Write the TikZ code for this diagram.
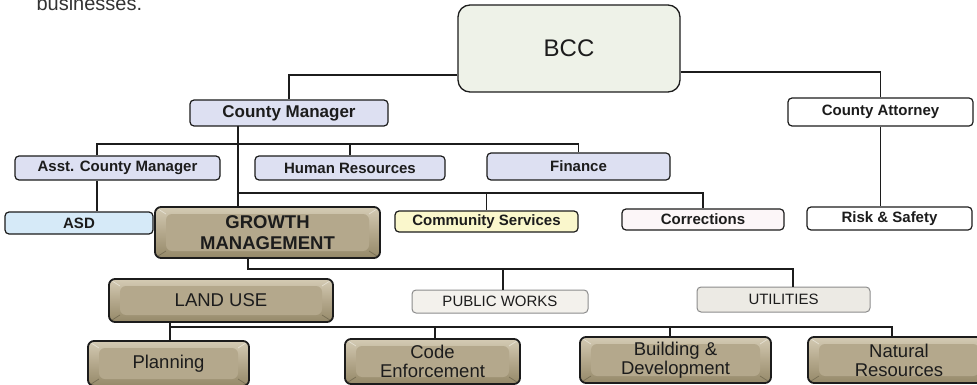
\documentclass[tikz,border=0pt]{standalone}
\usepackage{fontspec}
\setmainfont{Liberation Sans}
\definecolor{lav}{HTML}{DDE0F2}
\definecolor{bccfill}{HTML}{EEF2E8}
\definecolor{asdfill}{HTML}{D6EAF8}
\definecolor{csfill}{HTML}{FAF7CC}
\definecolor{corfill}{HTML}{FCF6F8}
\definecolor{pwfill}{HTML}{F3F1EC}
\definecolor{utfill}{HTML}{ECEAE4}
\definecolor{tanL}{HTML}{D4CBB4}
\definecolor{tanM}{HTML}{B4A88C}
\definecolor{tanD}{HTML}{958969}
\definecolor{ink}{HTML}{1C1C1C}
\tikzset{
  conn/.style={draw=ink, line width=1.3pt},
  plain/.style={draw=ink, line width=1.2pt, rounded corners=4pt, inner sep=0pt, text=ink,
     font=\bfseries\fontsize{15}{17}\selectfont},
  lavbox/.style={plain, fill=lav},
  greybox/.style={draw=black!45, line width=1pt, rounded corners=4pt, inner sep=0pt, text=ink,
     font=\fontsize{15}{17}\selectfont},
  bevel/.style={draw=ink, line width=1.8pt, rounded corners=6pt, inner sep=0pt, text=ink,
     top color=tanL, bottom color=tanD, middle color=tanM, align=center,
     font=\fontsize{18.5}{19}\selectfont,
     path picture={
       \coordinate (nw) at (path picture bounding box.north west);
       \coordinate (se) at (path picture bounding box.south east);
       \coordinate (ne) at (path picture bounding box.north east);
       \coordinate (sw) at (path picture bounding box.south west);
       \fill[tanM] ([shift={(11pt,-7pt)}]nw) rectangle ([shift={(-11pt,7pt)}]se);
       \draw[tanL!60!white, line width=0.7pt] (nw) -- ([shift={(11pt,-7pt)}]nw)
          (ne) -- ([shift={(-11pt,-7pt)}]ne);
       \draw[tanD!80!black, line width=0.7pt] (sw) -- ([shift={(11pt,7pt)}]sw)
          (se) -- ([shift={(-11pt,7pt)}]se);
     }},
}
\begin{document}
\begin{tikzpicture}[x=1pt, y=-1pt]
\useasboundingbox (0,0) rectangle (977,385);

\node[anchor=base west, font=\fontsize{20}{24}\selectfont, text=black!80] (biz) at (33,11) {businesses.};

% top
\node[draw=ink, line width=1.3pt, rounded corners=12pt, fill=bccfill, minimum width=222pt, minimum height=87pt,
      font=\fontsize{24}{28}\selectfont, text=ink] (bcc) at (569,48.5) {BCC};
\node[lavbox, minimum width=198pt, minimum height=26pt, font=\bfseries\fontsize{17}{19}\selectfont] (cm) at (289,113) {County Manager};
\node[plain, fill=white, minimum width=185pt, minimum height=28pt] (ca) at (880.5,112) {County Attorney};

% second row
\node[lavbox, minimum width=205pt, minimum height=24pt] (acm) at (117.5,168) {Asst. County Manager};
\node[lavbox, minimum width=190pt, minimum height=24pt] (hr) at (350,168) {Human Resources};
\node[lavbox, minimum width=183pt, minimum height=27pt] (fin) at (578.5,166.5) {Finance};

% third row
\node[plain, fill=asdfill, minimum width=148pt, minimum height=22pt] (asd) at (79,223) {ASD};
\node[bevel, minimum width=225pt, minimum height=51pt, font=\bfseries\fontsize{18.5}{21}\selectfont] (gm) at (267.5,232.5) {GROWTH\\MANAGEMENT};
\node[plain, fill=csfill, minimum width=183pt, minimum height=21pt] (cs) at (486.5,221.5) {Community Services};
\node[plain, fill=corfill, minimum width=162pt, minimum height=21pt] (cor) at (703,219.5) {Corrections};
\node[plain, fill=white, minimum width=165pt, minimum height=23pt] (rs) at (889.5,218.5) {Risk \& Safety};

% fourth row
\node[bevel, minimum width=224pt, minimum height=43pt] (lu) at (221,300.5) {LAND USE};
\node[greybox, fill=pwfill, minimum width=176pt, minimum height=23pt] (pw) at (500,301.5) {PUBLIC WORKS};
\node[greybox, fill=utfill, minimum width=173pt, minimum height=25pt] (ut) at (783.5,299.5) {UTILITIES};

% bottom row
\node[bevel, minimum width=161pt, minimum height=45pt] (pl) at (168.5,363.5) {Planning};
\node[bevel, minimum width=175pt, minimum height=45pt] (ce) at (432.5,361.5) {Code\\Enforcement};
\node[bevel, minimum width=191pt, minimum height=46pt] (bd) at (675.5,360) {Building \&\\Development};
\node[bevel, minimum width=182pt, minimum height=46pt] (nr) at (899,360) {Natural\\Resources};

% connectors
\coordinate (bL) at (bcc.west |- 0,75);
\coordinate (bR) at (bcc.east |- 0,72);
\draw[conn] (bL) -| (cm.north);
\draw[conn] (bR) -| (ca.north);
\draw[conn] (ca.south) -- (ca.south |- rs.north);

\coordinate (cmdrop) at (238,126);
\draw[conn] (cmdrop) -- (cmdrop |- gm.north);
\coordinate (acmx) at ([xshift=-20.5pt]acm.north);
\draw[conn] (acmx) |- (fin.north |- 0,144) -- (fin.north);
\draw[conn] (hr.north) -- (hr.north |- 0,144);
\draw[conn] ([xshift=-20.5pt]acm.south) -- ([xshift=-20.5pt]acm.south |- asd.north);

\draw[conn] (cmdrop |- 0,193) -| (cor.north);
\draw[conn] (cs.north) -- (cs.north |- 0,193);

\coordinate (gmdrop) at ([xshift=-19.5pt]gm.south);
\draw[conn] (gmdrop) |- ([xshift=9.5pt]ut.north |- 0,269) -- ([xshift=9.5pt]ut.north);
\draw[conn] ([xshift=3pt]pw.north) -- ([xshift=3pt]pw.north |- 0,269);

\coordinate (ludrop) at ([xshift=1.5pt]pl.north |- lu.south);
\draw[conn] (ludrop) -- ([xshift=1.5pt]pl.north);
\draw[conn] (ludrop |- 0,327) -| ([xshift=-7pt]nr.north);
\draw[conn] ([xshift=2.5pt]ce.north) -- ([xshift=2.5pt]ce.north |- 0,327);
\draw[conn] ([xshift=-5.5pt]bd.north) -- ([xshift=-5.5pt]bd.north |- 0,327);
\end{tikzpicture}
\end{document}
